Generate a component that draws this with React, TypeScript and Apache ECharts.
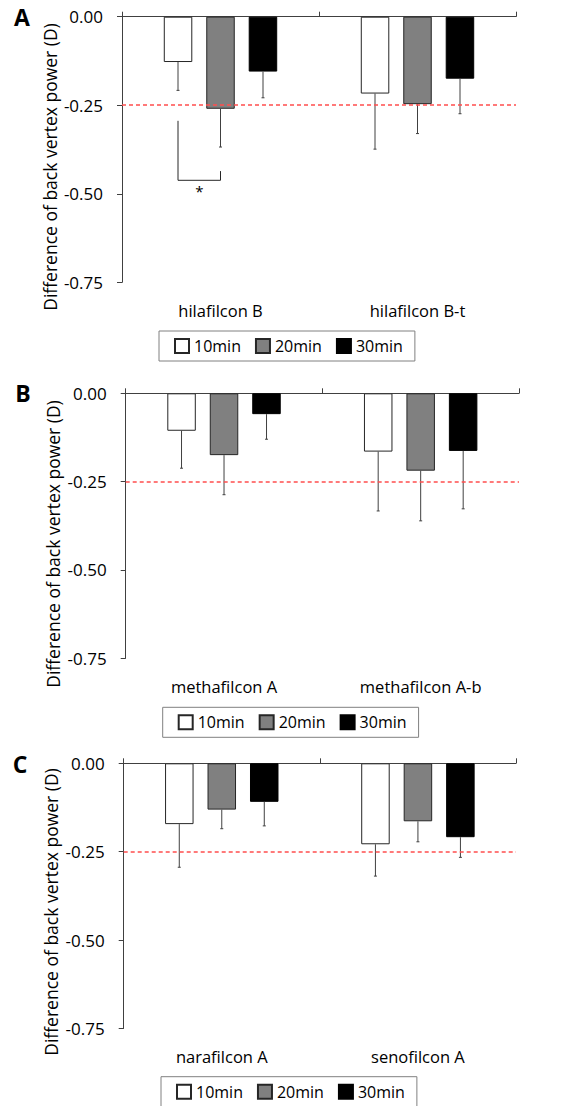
import React, { useEffect, useRef } from "react";
import * as echarts from "echarts";

const FONT = '"Open Sans", "Noto Sans", sans-serif';

// ---- data ----
const seriesNames = ["10min", "20min", "30min"];
const yTicks = [0, -0.25, -0.5, -0.75];
const threshold = -0.25;

const catsA = ["hilafilcon B", "hilafilcon B-t"];
const meanA10 = [-0.128, -0.217];
const meanA20 = [-0.26, -0.247];
const meanA30 = [-0.155, -0.175];
const sdA10 = [0.08, 0.157];
const sdA20 = [0.108, 0.083];
const sdA30 = [0.074, 0.099];

const catsB = ["methafilcon A", "methafilcon A-b"];
const meanB10 = [-0.106, -0.165];
const meanB20 = [-0.175, -0.219];
const meanB30 = [-0.059, -0.163];
const sdB10 = [0.106, 0.168];
const sdB20 = [0.112, 0.142];
const sdB30 = [0.071, 0.164];

const catsC = ["narafilcon A", "senofilcon A"];
const meanC10 = [-0.172, -0.229];
const meanC20 = [-0.131, -0.164];
const meanC30 = [-0.109, -0.209];
const sdC10 = [0.122, 0.09];
const sdC20 = [0.054, 0.058];
const sdC30 = [0.068, 0.057];

// significance bracket in panel A: [category, leftTop, rightTop, bottom]
const bracketA = [[0, -0.294, -0.436, -0.462]];

// ---- layout / style ----
const BAR_W = 28.5;
const STEP = 42.5;
const fills = ["#ffffff", "#808080", "#000000"];
const borders = ["#262626", "#262626", "#000000"];
const AXIS_COLOR = "#404040";

const panels = [
  {
    letter: "A", cats: catsA, means: [meanA10, meanA20, meanA30], sds: [sdA10, sdA20, sdA30],
    grid: { left: 122, top: 16.7, width: 394, height: 265.6 },
    legend: { left: 159, top: 331 }, letterPos: [22, 16.5], yLabelPos: [50, 167],
  },
  {
    letter: "B", cats: catsB, means: [meanB10, meanB20, meanB30], sds: [sdB10, sdB20, sdB30],
    grid: { left: 125.7, top: 393.3, width: 393.3, height: 265 },
    legend: { left: 162.7, top: 707.3 }, letterPos: [23, 392.5], yLabelPos: [53, 544],
  },
  {
    letter: "C", cats: catsC, means: [meanC10, meanC20, meanC30], sds: [sdC10, sdC20, sdC30],
    grid: { left: 123.7, top: 763.3, width: 392.3, height: 265.2 },
    legend: { left: 161, top: 1076.7 }, letterPos: [20, 764], yLabelPos: [51, 912],
  },
];

function buildOption() {
  const grid: any[] = [];
  const xAxis: any[] = [];
  const yAxis: any[] = [];
  const series: any[] = [];
  const legend: any[] = [];
  const graphic: any[] = [];

  panels.forEach((p, pi) => {
    grid.push({ ...p.grid, containLabel: false });
    xAxis.push({
      type: "category", gridIndex: pi, data: p.cats, position: "top",
      axisLine: { show: true, onZero: false, lineStyle: { color: AXIS_COLOR, width: 1 } },
      axisTick: { show: true, length: 5, lineStyle: { color: AXIS_COLOR } },
      axisLabel: { show: false }, splitLine: { show: false },
    });
    xAxis.push({
      type: "category", gridIndex: pi, data: p.cats, position: "bottom",
      axisLine: { show: false, onZero: false }, axisTick: { show: false },
      axisLabel: { show: true, fontSize: 16.5, color: "#000", fontFamily: FONT, margin: 19.5 },
      splitLine: { show: false },
    });
    yAxis.push({
      type: "value", gridIndex: pi, min: yTicks[yTicks.length - 1], max: yTicks[0], interval: 0.25,
      axisLine: { show: true, lineStyle: { color: AXIS_COLOR, width: 1 } },
      axisTick: { show: true, length: 5, lineStyle: { color: AXIS_COLOR } },
      splitLine: { show: false },
      axisLabel: {
        formatter: (v: number) => v.toFixed(2), fontSize: 17, color: "#000",
        fontFamily: FONT, margin: 19,
      },
    });

    seriesNames.forEach((name, k) => {
      const bar: any = {
        type: "bar", name, xAxisIndex: pi * 2, yAxisIndex: pi,
        data: p.means[k], barWidth: BAR_W, barGap: "49%",
        itemStyle: { color: fills[k], borderColor: borders[k], borderWidth: 1 },
        z: 2,
      };
      if (k === 0) {
        bar.markLine = {
          silent: true, symbol: "none", label: { show: false },
          lineStyle: { color: "#ff4d4d", type: [4, 3], width: 1.5 },
          data: [{ yAxis: threshold }],
        };
      }
      series.push(bar);
      const offset = (k - 1) * STEP;
      series.push({
        type: "custom", name: `err-${p.letter}-${name}`, xAxisIndex: pi * 2, yAxisIndex: pi,
        data: p.cats.map((_, i) => [i, p.means[k][i], p.sds[k][i]]),
        encode: { x: 0, y: 1 }, z: 3, silent: true,
        renderItem: (_params: any, api: any) => {
          const cat = api.value(0);
          const m = api.value(1);
          const sd = api.value(2);
          const a = api.coord([cat, m]);
          const b = api.coord([cat, m - sd]);
          const x = a[0] + offset;
          const st = { stroke: "#404040", lineWidth: 1 };
          return {
            type: "group",
            children: [
              { type: "line", shape: { x1: x, y1: a[1], x2: x, y2: b[1] }, style: st },
              { type: "line", shape: { x1: x - 1.5, y1: b[1], x2: x + 1.5, y2: b[1] }, style: st },
            ],
          };
        },
      });
    });

    legend.push({
      data: seriesNames, left: p.legend.left, top: p.legend.top, orient: "horizontal",
      icon: "rect", itemWidth: 14, itemHeight: 14, itemGap: 14,
      padding: [7, 12, 7, 15], borderColor: "#808080", borderWidth: 1,
      textStyle: { fontSize: 16, color: "#000", fontFamily: FONT },
      selectedMode: false,
    });

    graphic.push({
      type: "text", x: p.letterPos[0], y: p.letterPos[1],
      style: {
        text: p.letter, font: `bold 23px ${FONT}`, fill: "#000",
        textAlign: "center", textVerticalAlign: "middle",
      },
    });
    graphic.push({
      type: "text", x: p.yLabelPos[0], y: p.yLabelPos[1], rotation: Math.PI / 2,
      style: {
        text: "Difference of back vertex power (D)", font: `17.5px ${FONT}`, fill: "#000",
        textAlign: "center", textVerticalAlign: "middle",
      },
    });
  });

  // significance bracket (panel A)
  series.push({
    type: "custom", name: "sig-A", xAxisIndex: 0, yAxisIndex: 0,
    data: bracketA, encode: { x: 0, y: [1, 2, 3] }, z: 4, silent: true,
    renderItem: (_params: any, api: any) => {
      const cat = api.value(0);
      const l = api.coord([cat, api.value(1)]);
      const r = api.coord([cat, api.value(2)]);
      const bt = api.coord([cat, api.value(3)]);
      const x1 = l[0] - STEP;
      const x2 = l[0];
      return {
        type: "group",
        children: [
          {
            type: "polyline",
            shape: { points: [[x1, l[1]], [x1, bt[1]], [x2, bt[1]], [x2, r[1]]] },
            style: { stroke: "#262626", lineWidth: 1, fill: "none" },
          },
          {
            type: "text", x: (x1 + x2) / 2, y: bt[1] + 3,
            style: { text: "*", font: `15px ${FONT}`, fill: "#000", textAlign: "center", textVerticalAlign: "top" },
          },
        ],
      };
    },
  });

  return {
    animation: false,
    backgroundColor: "#ffffff",
    grid, xAxis, yAxis, series, legend, graphic,
  };
}

export default function App() {
  const ref = useRef<HTMLDivElement>(null);
  useEffect(() => {
    if (!ref.current) return;
    const chart = echarts.init(ref.current, undefined, { renderer: "svg" });
    chart.setOption(buildOption() as any);
    return () => chart.dispose();
  }, []);
  return (
    <div
      ref={ref}
      style={{ position: "absolute", left: 0, top: 0, width: 564, height: 1106, background: "#fff" }}
    />
  );
}
